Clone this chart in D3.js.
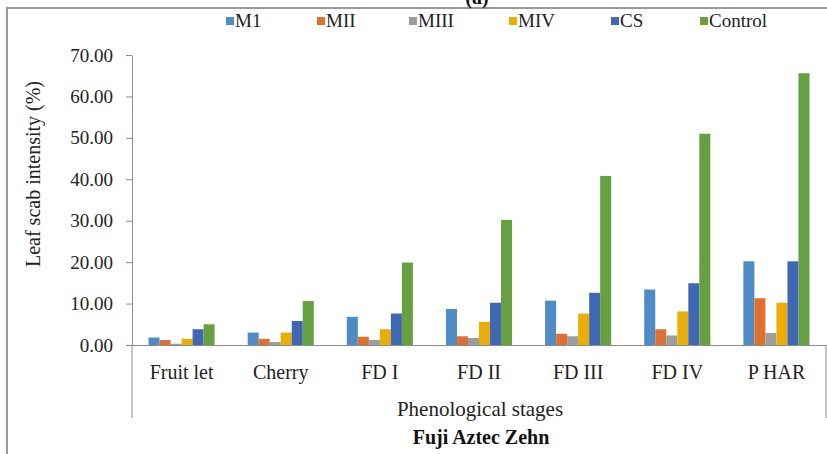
<!DOCTYPE html>
<html>
<head>
<meta charset="utf-8">
<script src="https://cdn.jsdelivr.net/npm/d3@7"></script>
<style>
  body { margin: 0; background: #fff; }
</style>
</head>
<body>
<div id="chart"></div>
<script>
var stages = ['Fruit let', 'Cherry', 'FD I', 'FD II', 'FD III', 'FD IV', 'P HAR'];
var series = ['M1', 'MII', 'MIII', 'MIV', 'CS', 'Control'];
var m1      = [1.8, 3.0, 6.8, 8.7, 10.7, 13.4, 20.2];
var m2      = [1.2, 1.5, 2.0, 2.1, 2.7, 3.8, 11.3];
var m3      = [0.3, 0.7, 1.2, 1.7, 2.1, 2.3, 2.9];
var m4      = [1.5, 3.0, 3.8, 5.6, 7.6, 8.1, 10.2];
var cs      = [3.8, 5.8, 7.6, 10.2, 12.6, 14.9, 20.2];
var control = [5.0, 10.6, 19.9, 30.2, 40.8, 51.0, 65.6];
var y_ticks = [0, 10, 20, 30, 40, 50, 60, 70];
var colors  = ['#4f8cc6', '#df7130', '#9d9d9d', '#eaae08', '#3f67b4', '#66a040'];

var font = 'Liberation Serif';

var values = [m1, m2, m3, m4, cs, control];
var data = [];
stages.forEach(function (s, i) {
    series.forEach(function (k, j) {
        data.push({ stage: s, key: k, num: values[j][i] });
    });
});

var width = 827, height = 454;
var left = 132, right = 826, top_y = 55, base_y = 345;

var svg = d3.select('#chart')
    .append('svg')
    .attr('width', width)
    .attr('height', height)
    .attr('font-family', font);

// outer frame (top and left edges only visible)
svg.append('path')
    .attr('d', 'M7,454 L7,8 L827,8')
    .attr('fill', 'none')
    .attr('stroke', '#999')
    .attr('stroke-width', 2);

svg.append('text')
    .text('(a)')
    .attr('x', 477)
    .attr('y', 4)
    .attr('text-anchor', 'middle')
    .attr('font-family', font)
    .attr('font-size', 20)
    .attr('font-weight', 'bold')
    .attr('fill', '#111');

// scales
var x_scale = d3.scaleBand()
    .domain(stages)
    .range([left, right]);
var bw = x_scale.bandwidth();
var group_w = bw / 1.5;
var x_inner = d3.scaleBand()
    .domain(series)
    .range([(bw - group_w) / 2, (bw + group_w) / 2]);
var y_scale = d3.scaleLinear()
    .domain([0, 70])
    .range([base_y, top_y]);
var color = d3.scaleOrdinal().domain(series).range(colors);

// bars
svg.selectAll('rect.bar')
    .data(data)
    .enter()
    .append('rect')
    .attr('class', 'bar')
    .attr('x', function (d) { return x_scale(d.stage) + x_inner(d.key); })
    .attr('width', x_inner.bandwidth())
    .attr('y', function (d) { return y_scale(d.num); })
    .attr('height', function (d) { return base_y - y_scale(d.num); })
    .attr('fill', function (d) { return color(d.key); });

// y axis
var y_axis = d3.axisLeft(y_scale)
    .tickValues(y_ticks)
    .tickFormat(d3.format('.2f'))
    .tickSize(6)
    .tickSizeOuter(0)
    .tickPadding(13);
var gy = svg.append('g')
    .attr('transform', 'translate(' + left + ',0)')
    .call(y_axis)
    .attr('font-family', font)
    .attr('font-size', 19);
gy.selectAll('path, line').attr('stroke', '#8c8c8c');
gy.selectAll('text').attr('fill', '#222');

// x axis
var x_axis = d3.axisBottom(x_scale).tickSize(0).tickSizeOuter(0).tickPadding(20);
var gx = svg.append('g')
    .attr('transform', 'translate(0,' + base_y + ')')
    .call(x_axis)
    .attr('font-family', font)
    .attr('font-size', 20);
gx.select('path').attr('stroke', '#8c8c8c');
gx.selectAll('text').attr('fill', '#222');

// plot border below the axis
[left, right].forEach(function (xx) {
    svg.append('line')
        .attr('x1', xx).attr('x2', xx)
        .attr('y1', base_y).attr('y2', 418)
        .attr('stroke', '#8c8c8c');
});

// axis titles
svg.append('text')
    .text('Leaf scab intensity (%)')
    .attr('transform', 'translate(40,174) rotate(-90)')
    .attr('text-anchor', 'middle')
    .attr('font-size', 20)
    .attr('fill', '#222');

svg.append('text')
    .text('Phenological stages')
    .attr('x', 480)
    .attr('y', 416)
    .attr('text-anchor', 'middle')
    .attr('font-size', 21)
    .attr('fill', '#222');

svg.append('text')
    .text('Fuji Aztec Zehn')
    .attr('x', 481)
    .attr('y', 444)
    .attr('text-anchor', 'middle')
    .attr('font-size', 20)
    .attr('font-weight', 'bold')
    .attr('fill', '#111');

// legend
var legend_x = [226, 317, 409, 509, 611, 700];
var legend = svg.selectAll('g.legend')
    .data(series)
    .enter()
    .append('g')
    .attr('class', 'legend')
    .attr('transform', function (d, i) { return 'translate(' + legend_x[i] + ',21)'; });
legend.append('rect')
    .attr('x', 0).attr('y', -4)
    .attr('width', 8).attr('height', 8)
    .attr('fill', function (d) { return color(d); });
legend.append('text')
    .text(function (d) { return d; })
    .attr('x', 9)
    .attr('y', 6)
    .attr('font-size', 19)
    .attr('fill', '#222');
</script>
</body>
</html>
